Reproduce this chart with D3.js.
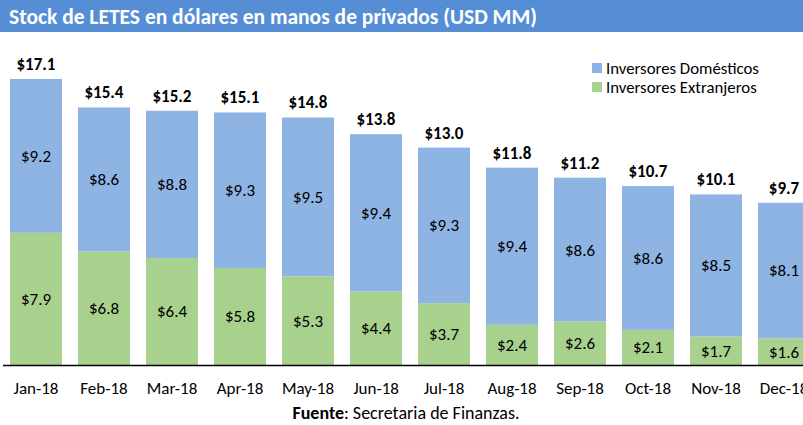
<!DOCTYPE html>
<html>
<head>
<meta charset="utf-8">
<script src="https://cdn.jsdelivr.net/npm/d3@7"></script>
<style>
  body { margin: 0; background: #fff; }
  svg text { font-family: Carlito, Lato, "Liberation Sans", sans-serif; }
</style>
</head>
<body>
<div id="chart"></div>
<script>
// data (USD MM)
var months = ["Jan-18", "Feb-18", "Mar-18", "Apr-18", "May-18", "Jun-18",
              "Jul-18", "Aug-18", "Sep-18", "Oct-18", "Nov-18", "Dec-18"];
var domesticos = [9.2, 8.6, 8.8, 9.3, 9.5, 9.4, 9.3, 9.4, 8.6, 8.6, 8.5, 8.1];
var extranjeros = [7.9, 6.8, 6.4, 5.8, 5.3, 4.4, 3.7, 2.4, 2.6, 2.1, 1.7, 1.6];
var totales = [17.1, 15.4, 15.2, 15.1, 14.8, 13.8, 13.0, 11.8, 11.2, 10.7, 10.1, 9.7];
var seriesNames = ["Inversores Domésticos", "Inversores Extranjeros"];

var svgWidth = 803, svgHeight = 425;
var baseY = 365;

var svg = d3.select("#chart").append("svg")
  .attr("width", svgWidth)
  .attr("height", svgHeight);

// title bar
svg.append("rect")
  .attr("x", 0).attr("y", 0)
  .attr("width", svgWidth).attr("height", 32)
  .attr("fill", "#558ed5");
svg.append("text")
  .attr("x", 9).attr("y", 24)
  .attr("fill", "#fff")
  .style("font-size", "21.5px")
  .style("font-weight", "bold")
  .text("Stock de LETES en dólares en manos de privados (USD MM)");

var rows = months.map(function (m, i) {
  return { month: m, dom: domesticos[i], ext: extranjeros[i], total: totales[i] };
});

var x = d3.scaleBand()
  .domain(months)
  .range([2, 2 + 12 * 68])
  .paddingInner(0.235)
  .paddingOuter(0.1175);

var y = d3.scaleLinear()
  .domain([0, 17.1])
  .range([baseY, 79]);

var stack = d3.stack().keys(["ext", "dom"]);
var layers = stack(rows);
var colors = { ext: "#a9d18e", dom: "#8eb4e3" };

var chartGroup = svg.append("g");

layers.forEach(function (layer) {
  var g = chartGroup.append("g");
  g.selectAll("rect")
    .data(layer)
    .enter()
    .append("rect")
    .attr("x", d => x(d.data.month))
    .attr("y", d => y(d[1]))
    .attr("width", x.bandwidth())
    .attr("height", d => y(d[0]) - y(d[1]))
    .attr("fill", colors[layer.key]);

  g.selectAll("text")
    .data(layer)
    .enter()
    .append("text")
    .attr("x", d => x(d.data.month) + x.bandwidth() / 2)
    .attr("y", d => (y(d[0]) + y(d[1])) / 2)
    .attr("dy", "0.35em")
    .attr("text-anchor", "middle")
    .style("font-size", "17px")
    .attr("fill", "#000")
    .text(d => "$" + d.data[layer.key].toFixed(1));
});

// totals on top
chartGroup.selectAll(".total")
  .data(rows)
  .enter()
  .append("text")
  .attr("class", "total")
  .attr("x", d => x(d.month) + x.bandwidth() / 2)
  .attr("y", d => y(d.dom + d.ext) - 9)
  .attr("text-anchor", "middle")
  .style("font-size", "17px")
  .style("font-weight", "bold")
  .text(d => "$" + d.total.toFixed(1));

// x axis
var xAxis = d3.axisBottom(x).tickSize(0).tickPadding(16);
var axisG = svg.append("g")
  .attr("transform", `translate(0, ${baseY + 0.5})`)
  .call(xAxis);
axisG.select(".domain")
  .attr("d", "M3,0H803")
  .attr("stroke", "#000")
  .attr("stroke-width", 1.5);
axisG.selectAll("text")
  .style("font-size", "17px")
  .attr("fill", "#000");

// legend
var legend = svg.append("g").attr("transform", "translate(592, 63)");
var legendColors = [colors.dom, colors.ext];
seriesNames.forEach(function (name, i) {
  legend.append("rect")
    .attr("x", 0).attr("y", i * 19)
    .attr("width", 10).attr("height", 10)
    .attr("fill", legendColors[i]);
  legend.append("text")
    .attr("x", 14).attr("y", i * 19 + 5)
    .attr("dy", "0.35em")
    .style("font-size", "16.8px")
    .text(name);
});

// source note
var src = svg.append("text")
  .attr("x", 406).attr("y", 419)
  .attr("text-anchor", "middle")
  .style("font-size", "18px");
src.append("tspan").style("font-weight", "bold").text("Fuente");
src.append("tspan").text(": Secretaria de Finanzas.");
</script>
</body>
</html>
